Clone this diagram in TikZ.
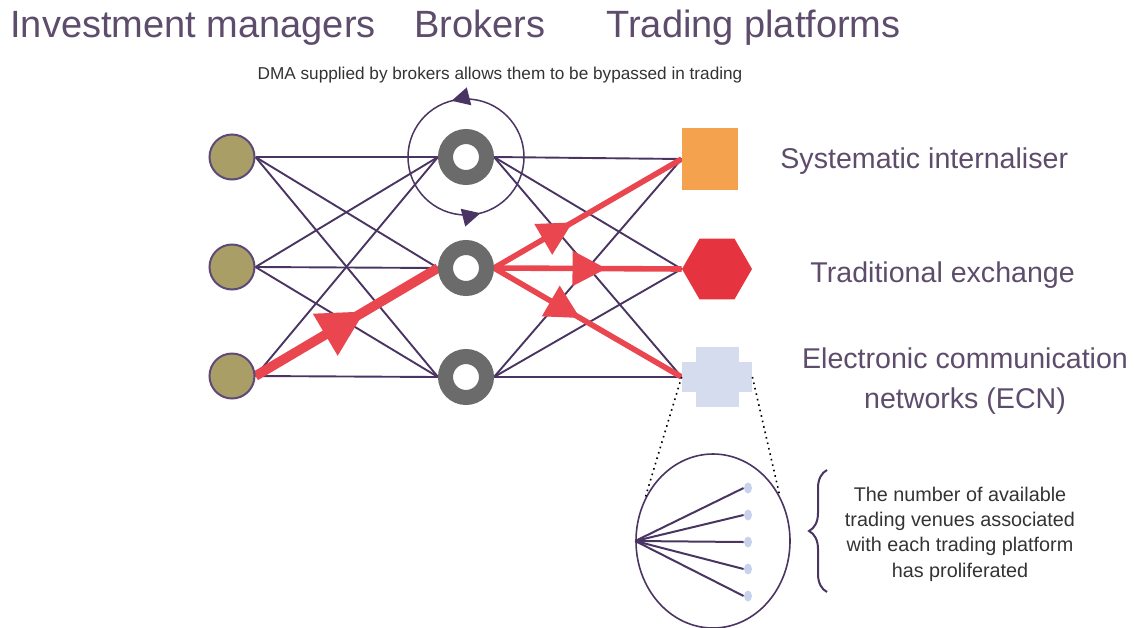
\documentclass[tikz,border=0pt]{standalone}
\usepackage{fontspec}
\setmainfont{Liberation Sans}
\usetikzlibrary{shapes.geometric,arrows.meta,decorations.markings,decorations.pathreplacing,backgrounds}
\definecolor{imfill}{HTML}{A89E66}
\definecolor{imline}{HTML}{5E4A78}
\definecolor{ringgray}{HTML}{6C6B6B}
\definecolor{linkcol}{HTML}{4A3562}
\definecolor{redcol}{HTML}{E9464F}
\definecolor{hexcol}{HTML}{E5343F}
\definecolor{sqcol}{HTML}{F5A24E}
\definecolor{ecncol}{HTML}{D4DCEE}
\definecolor{txtcol}{HTML}{5D4C6B}
\definecolor{dotcol}{HTML}{C8D2EC}
\definecolor{smalltxt}{HTML}{333333}
\begin{document}
\begin{tikzpicture}[x=0.5pt,y=-0.5pt,
  imnode/.style={circle,fill=imfill,draw=imline,line width=1pt,minimum size=22.5pt,inner sep=0pt},
  brnode/.style={circle,draw=ringgray,line width=7.5pt,fill=white,minimum size=20.5pt,inner sep=0pt},
  link/.style={draw=linkcol,line width=0.95pt},
  flowarrow/.style n args={3}{draw=redcol,line width=#1,
    decoration={markings,mark=at position #2 with {\arrow{Triangle[length=#3,width=#3]}}},
    postaction={decorate}},
  title/.style={text=txtcol,font=\fontsize{19}{23}\selectfont,anchor=base west,inner sep=0pt},
  label/.style={text=txtcol,font=\fontsize{14.3}{18}\selectfont,inner sep=0pt},
  venue/.style={ellipse,fill=dotcol,minimum width=4pt,minimum height=5.5pt,inner sep=0pt}
]
\useasboundingbox (0,0) rectangle (1134,627);

% titles
\node[title] (t1) at (10,37) {Investment managers};
\node[title] (t2) at (414,37) {Brokers};
\node[title] (t3) at (606,37) {Trading platforms};
\node[text=smalltxt,font=\fontsize{8.6}{10}\selectfont,anchor=base,inner sep=0pt] (dma) at (500,79) {DMA supplied by brokers allows them to be bypassed in trading};

% nodes
\node[imnode] (im1) at (232,157) {};
\node[imnode] (im2) at (232,267) {};
\node[imnode] (im3) at (232,376) {};
\node[brnode] (br1) at (466,157) {};
\node[brnode] (br2) at (466,268) {};
\node[brnode] (br3) at (466,377) {};
\node[fill=sqcol,minimum width=28pt,minimum height=31pt,inner sep=0pt] (sq) at (710,159) {};
\node[regular polygon,regular polygon sides=6,fill=hexcol,minimum size=35pt,inner sep=0pt] (hex) at (717,269) {};
\node[fill=ecncol,minimum width=35pt,minimum height=15pt,inner sep=0pt] (ecn) at (717,377) {};
\fill[ecncol] ([shift={(-21.5,-30)}]ecn.center) rectangle ([shift={(21.5,30)}]ecn.center);

% labels
\node[label,anchor=base west] (l1) at (780,168) {Systematic internaliser};
\node[label,anchor=base west] (l2) at (810,282) {Traditional exchange};
\node[label,anchor=base] (l3) at (965,368) {Electronic communication};
\node[label,anchor=base] (l4) at (965,408) {networks (ECN)};

% connectors
\begin{scope}[on background layer]
  \foreach \i in {1,2,3}{
    \foreach \j in {1,2,3}{
      \draw[link] (im\i.east) -- (br\j.west);
    }
    \draw[link] (br\i.east) -- (sq.west);
    \draw[link] (br\i.east) -- (hex.west);
    \draw[link] (br\i.east) -- (ecn.west);
  }
  \draw[flowarrow={4.8pt}{0.6}{23pt}] (im3.east) -- (br2.west);
  \draw[flowarrow={2.8pt}{0.42}{17pt}] (br2.east) -- (sq.west);
  \draw[flowarrow={2.8pt}{0.6}{17pt}] (br2.east) -- (hex.west);
  \draw[flowarrow={2.8pt}{0.46}{17pt}] (br2.east) -- (ecn.west);
\end{scope}

% circular arrow around broker 1
\draw[draw=linkcol,line width=0.75pt,
  decoration={markings,
    mark=at position 0.21 with {\arrowreversed{Triangle[length=9pt,width=9pt]}},
    mark=at position 0.71 with {\arrowreversed{Triangle[length=9pt,width=9pt]}}},
  postaction={decorate}] (br1.center) circle[radius=58];

% zoom of ECN
\node[ellipse,draw=linkcol,line width=0.8pt,minimum width=77pt,minimum height=87pt,inner sep=0pt] (zoom) at (713,541) {};
\draw[dotted,line width=0.8pt] (ecn.west) -- (zoom.148);
\draw[dotted,line width=0.8pt] (ecn.east) -- (zoom.34);
\foreach \k/\yy in {1/488,2/515,3/542,4/569,5/596}{
  \node[venue] (v\k) at (748,\yy) {};
  \draw[link,line width=1pt] (zoom.west) -- (v\k.west);
}

% brace and note
\draw[draw=linkcol,line width=1pt,decorate,decoration={brace,amplitude=9pt}] (827,592) -- (827,470);
\node[text=smalltxt,font=\fontsize{9.9}{12.65}\selectfont,align=center,inner sep=0pt] (note) at (960,534)
  {The number of available\\trading venues associated\\with each trading platform\\has proliferated};
\end{tikzpicture}
\end{document}
